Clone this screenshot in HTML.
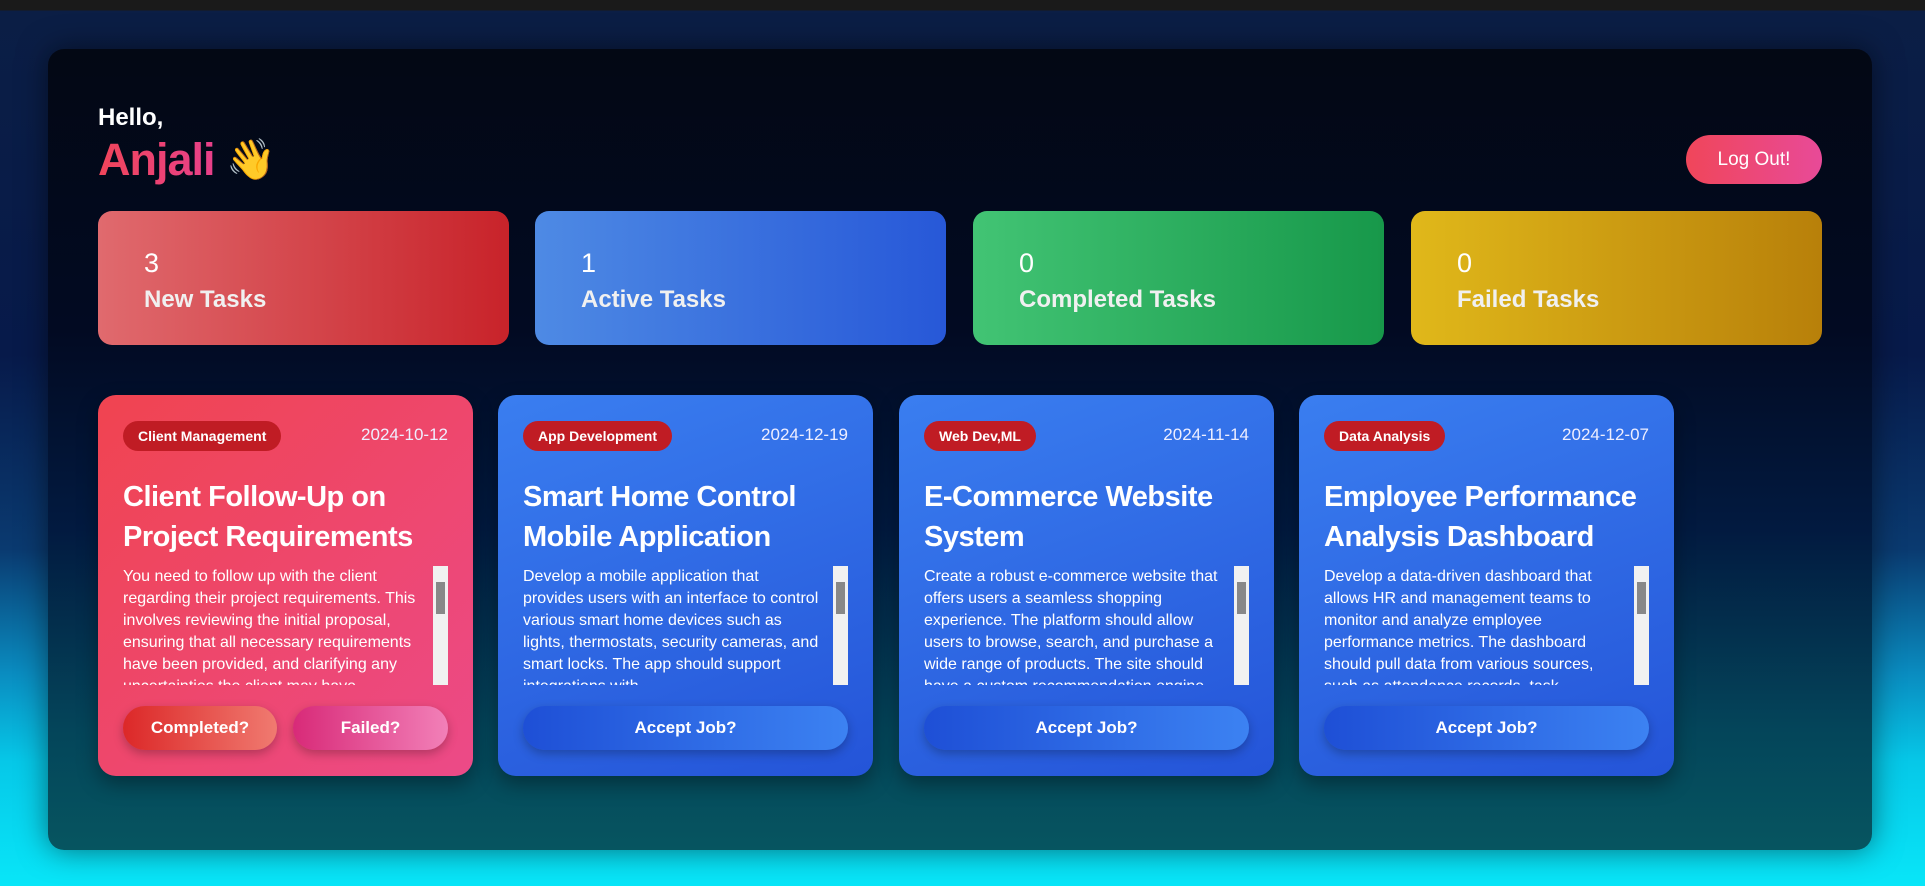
<!DOCTYPE html>
<html><head><meta charset="utf-8">
<style>
*{box-sizing:border-box;margin:0;padding:0}
html,body{width:1925px;height:886px;overflow:hidden}
body{font-family:"Liberation Sans",sans-serif;color:#fff;position:relative;
background:linear-gradient(180deg,#1a1a1a 0,#1a1a1a 10px,#0b1e45 11px,#071a4a 40%,#0a3a70 62%,#0a8cc0 76%,#06c8e8 86%,#08e6f8 100%);}
.panel{position:absolute;left:48px;top:49px;width:1824px;height:801px;border-radius:16px;
background:linear-gradient(180deg,#030814 0%,#020a22 35%,#021a40 60%,#04455a 85%,#065560 100%);box-shadow:0 0 30px rgba(0,0,0,.5)}
.hello{position:absolute;left:98px;top:104px;font-size:24px;font-weight:bold}
.name{position:absolute;left:98px;top:134px;font-size:45px;font-weight:bold;background:linear-gradient(90deg,#f0455a,#e8408a);-webkit-background-clip:text;color:transparent;letter-spacing:-1px}
.wave{position:absolute;left:226px;top:136px;font-size:40px}
.logout{position:absolute;left:1686px;top:135px;width:136px;height:49px;border-radius:25px;background:linear-gradient(90deg,#f0465a,#e84a98);font-size:19px;display:flex;align-items:center;justify-content:center}
.stat{position:absolute;top:211px;width:411px;height:134px;border-radius:14px;padding:36px 0 0 46px}
.stat .n{font-size:27px;line-height:32px}
.stat .l{font-size:24px;font-weight:bold;line-height:34px;margin-top:4px;color:#f0f0f0}
.card{position:absolute;top:395px;width:375px;height:381px;border-radius:18px;padding:25px;box-shadow:0 8px 20px rgba(0,0,0,.35)}
.red{background:linear-gradient(135deg,#f04450,#ec4a88)}
.blue{background:linear-gradient(160deg,#3a7ef0,#2454d8)}
.badge{position:absolute;left:25px;top:26px;height:30px;border-radius:15px;background:#c01c24;font-size:14px;font-weight:bold;padding:0 15px;line-height:30px}
.date{position:absolute;right:25px;top:30px;font-size:17px;color:#eef}
.title{position:absolute;left:25px;top:82px;font-size:29px;font-weight:bold;line-height:40px;width:330px;letter-spacing:-.5px}
.desc{position:absolute;left:25px;top:171px;width:300px;height:119px;overflow:hidden;font-size:16px;line-height:22px}
.sb{position:absolute;left:335px;top:171px;width:15px;height:119px;background:#f1f1f1}
.sb i{position:absolute;left:3px;top:16px;width:9px;height:32px;background:#888}
.btn{position:absolute;top:311px;height:44px;border-radius:22px;font-size:17px;font-weight:bold;display:flex;align-items:center;justify-content:center;box-shadow:0 4px 10px rgba(0,0,0,.25)}
.acc{left:25px;width:325px;background:linear-gradient(90deg,#1e4fd6,#3c82f2)}
</style></head><body>
<div class="panel"></div>
<div class="hello">Hello,</div>
<div class="name">Anjali</div><div class="wave">👋</div>
<div class="logout">Log Out!</div>

<div class="stat" style="left:98px;background:linear-gradient(90deg,#e06a6e,#c8232a)"><div class="n">3</div><div class="l">New Tasks</div></div>
<div class="stat" style="left:535px;background:linear-gradient(90deg,#4e8ae4,#2758d8)"><div class="n">1</div><div class="l">Active Tasks</div></div>
<div class="stat" style="left:973px;background:linear-gradient(90deg,#42c474,#17984a)"><div class="n">0</div><div class="l">Completed Tasks</div></div>
<div class="stat" style="left:1411px;background:linear-gradient(90deg,#e0b81a,#b8800a)"><div class="n">0</div><div class="l">Failed Tasks</div></div>

<div class="card red" style="left:98px">
<div class="badge">Client Management</div><div class="date">2024-10-12</div>
<div class="title">Client Follow-Up on Project Requirements</div>
<div class="desc">You need to follow up with the client regarding their project requirements. This involves reviewing the initial proposal, ensuring that all necessary requirements have been provided, and clarifying any uncertainties the client may have.</div>
<div class="sb"><i></i></div>
<div class="btn" style="left:25px;width:154px;background:linear-gradient(90deg,#dc2828,#f07a70)">Completed?</div>
<div class="btn" style="left:195px;width:155px;background:linear-gradient(90deg,#d82a78,#f280b8)">Failed?</div>
</div>

<div class="card blue" style="left:498px">
<div class="badge">App Development</div><div class="date">2024-12-19</div>
<div class="title">Smart Home Control Mobile Application</div>
<div class="desc">Develop a mobile application that provides users with an interface to control various smart home devices such as lights, thermostats, security cameras, and smart locks. The app should support integrations with</div>
<div class="sb"><i></i></div>
<div class="btn acc">Accept Job?</div>
</div>

<div class="card blue" style="left:899px">
<div class="badge">Web Dev,ML</div><div class="date">2024-11-14</div>
<div class="title">E-Commerce Website System</div>
<div class="desc">Create a robust e-commerce website that offers users a seamless shopping experience. The platform should allow users to browse, search, and purchase a wide range of products. The site should have a custom recommendation engine</div>
<div class="sb"><i></i></div>
<div class="btn acc">Accept Job?</div>
</div>

<div class="card blue" style="left:1299px">
<div class="badge">Data Analysis</div><div class="date">2024-12-07</div>
<div class="title">Employee Performance Analysis Dashboard</div>
<div class="desc">Develop a data-driven dashboard that allows HR and management teams to monitor and analyze employee performance metrics. The dashboard should pull data from various sources, such as attendance records, task</div>
<div class="sb"><i></i></div>
<div class="btn acc">Accept Job?</div>
</div>
</body></html>
